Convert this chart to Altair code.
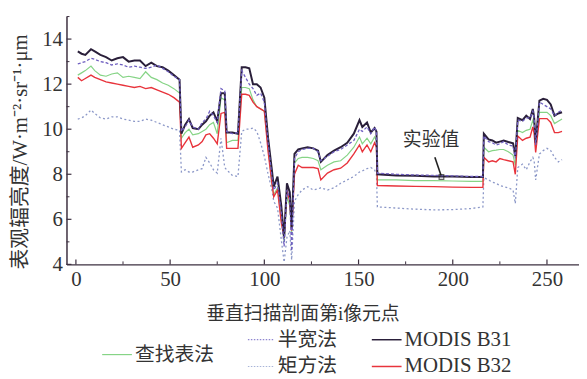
import altair as alt
import pandas as pd

# ---------------- data ----------------
pixel_i = [1, 3, 5, 8, 10, 13, 16, 19, 22, 25, 28, 31, 34, 37, 40, 43, 46, 49, 52, 55,
           56, 58, 60, 62, 65, 67, 69, 71, 73, 75, 77, 79, 80, 83, 86,
           88, 90, 92, 94, 96, 98, 100, 102, 104, 105, 107, 109, 110.5, 112, 113.5, 114.5,
           116, 118, 120, 123, 126, 128.5, 130, 133.5, 137, 140.5, 144, 147.5, 150.5, 152,
           154.5, 156.5, 158.5, 159.5,
           160, 170, 180, 190, 200, 210, 216,
           216.5, 219, 221, 223, 225, 227, 229.5, 232, 233.2,
           234.5, 237, 239, 241, 242.5, 243.2, 244, 246, 248, 250, 252, 254, 256, 258]

modis_b31 = [13.45, 13.35, 13.3, 13.55, 13.45, 13.3, 13.2, 13.05, 13.15, 13.2, 13.0, 13.05, 13.05, 12.8, 12.95, 12.8, 12.75, 12.6, 12.4, 12.2,
             9.8, 10.2, 10.45, 10.05, 10.0, 10.2, 10.35, 10.6, 10.75, 10.35, 11.6, 11.6, 9.85, 9.85, 9.8,
             12.75, 12.75, 12.7, 12.0, 12.0, 11.85, 11.4, 9.6, 8.2, 7.45, 7.9, 6.6, 5.2, 7.6, 7.2, 5.6,
             8.9, 9.1, 9.15, 9.2, 9.15, 9.05, 8.55, 8.85, 9.05, 9.2, 9.4, 9.8, 10.4, 10.1,
             10.3, 9.85, 10.05, 9.9,
             8.0, 7.95, 7.93, 7.9, 7.9, 7.88, 7.88,
             9.8, 9.55, 9.5, 9.4, 9.45, 9.5, 9.43, 9.37, 8.8,
             10.5, 10.4, 10.6, 10.45, 10.9, 10.5, 9.4, 11.27, 11.35, 11.3, 11.1, 10.6, 10.7, 10.75]

half_width = [12.9, 12.95, 13.0, 13.15, 13.1, 13.0, 12.95, 12.85, 12.9, 12.85, 12.75, 12.8, 12.75, 12.7, 12.75, 12.85, 12.7, 12.55, 12.35, 12.2,
              9.9, 10.1, 10.4, 10.1, 10.0, 10.3, 10.45, 10.8, 10.6, 10.3, 11.8, 11.7, 9.9, 9.8, 9.85,
              12.6, 12.3, 12.0, 11.8, 11.5, 11.6, 11.2, 9.4, 7.9, 7.3, 7.6, 6.3, 4.8, 7.3, 6.9, 4.6,
              8.7, 9.0, 9.1, 9.15, 9.15, 9.0, 8.6, 8.8, 9.0, 9.1, 9.3, 9.5, 10.0, 9.9,
              10.1, 9.8, 10.1, 9.9,
              8.05, 8.0, 7.97, 7.95, 7.93, 7.9, 7.9,
              9.7, 9.45, 9.4, 9.3, 9.35, 9.45, 9.3, 9.25, 8.7,
              10.4, 10.35, 10.5, 10.5, 10.8, 10.5, 9.3, 11.2, 11.1, 11.0, 10.9, 10.6, 10.75, 10.85]

lookup_table = [12.4, 12.5, 12.6, 12.8, 12.6, 12.4, 12.35, 12.45, 12.5, 12.3, 12.35, 12.3, 12.25, 12.55, 12.3, 12.2, 12.05, 11.95, 11.8, 11.6,
                9.6, 9.85, 10.0, 9.75, 9.8, 9.9, 10.0, 10.2, 10.3, 9.8, 11.4, 11.3, 9.4, 9.5, 9.5,
                11.85, 11.85, 11.8, 11.3, 11.0, 10.9, 10.8, 9.2, 7.6, 7.1, 7.4, 6.0, 5.0, 7.0, 6.6, 5.4,
                8.5, 8.7, 8.75, 8.75, 8.7, 8.6, 8.2, 8.4, 8.55, 8.6, 8.85, 9.2, 9.65, 9.35,
                9.6, 9.35, 9.65, 9.5,
                7.75, 7.75, 7.72, 7.72, 7.7, 7.68, 7.68,
                9.2, 9.0, 9.05, 9.07, 9.1, 9.1, 9.0, 8.85, 8.4,
                9.95, 9.85, 9.95, 10.0, 10.4, 10.2, 9.2, 10.75, 10.75, 10.75, 10.6, 10.25, 10.35, 10.45]

modis_b32 = [12.3, 12.15, 12.25, 12.4, 12.3, 12.2, 12.1, 12.05, 12.0, 11.95, 11.9, 11.85, 11.9, 11.8, 11.85, 11.75, 11.65, 11.55, 11.4, 11.2,
             9.15, 9.4, 9.65, 9.2, 9.3, 9.45, 9.75, 9.8, 9.6, 9.35, 10.7, 10.75, 9.15, 9.15, 9.15,
             11.55, 11.55, 11.5, 11.2, 11.0, 10.9, 10.8, 9.0, 7.6, 7.0, 7.3, 5.85, 5.2, 7.3, 6.8, 5.5,
             8.0, 8.4, 8.3, 8.3, 8.3, 8.25, 7.75, 8.05, 8.2, 8.27, 8.5, 8.9, 9.3, 9.0,
             9.3, 9.0, 9.4, 9.2,
             7.5, 7.48, 7.46, 7.45, 7.43, 7.42, 7.42,
             8.75, 8.55, 8.6, 8.55, 8.7, 8.65, 8.6, 8.55, 8.0,
             9.7, 9.5, 9.6, 9.65, 10.1, 9.8, 8.97, 10.47, 10.47, 10.47, 10.3, 9.85, 9.85, 9.9]

moment = [10.45, 10.5, 10.6, 10.85, 10.7, 10.5, 10.45, 10.55, 10.55, 10.45, 10.4, 10.35, 10.35, 10.45, 10.4, 10.3, 10.2, 10.1, 10.0, 9.95,
          8.1, 8.2, 8.1, 8.1, 8.2, 8.25, 8.75, 8.5, 8.2, 8.05, 9.6, 8.3, 8.2, 7.95, 7.9,
          9.9, 10.0, 10.0, 10.05, 9.9, 9.4, 8.8, 8.0, 7.3, 6.8, 6.5, 5.1, 4.1, 5.2, 5.5, 4.2,
          6.8, 7.1, 7.3, 7.45, 7.3, 7.35, 7.4, 7.3, 7.4, 7.6, 7.75, 7.9, 8.1, 8.15,
          8.25, 8.3, 8.2, 8.0,
          6.55, 6.5, 6.45, 6.42, 6.43, 6.48, 6.55,
          7.85, 7.75, 7.65, 7.6, 7.5, 7.45, 7.4, 7.3, 6.7,
          8.3, 8.45, 8.2, 8.55, 8.75, 8.6, 7.75, 8.9, 9.05, 9.15, 9.05, 8.75, 8.55, 8.65]

x_tick_values = [0, 50, 100, 150, 200, 250]
x_minor_ticks = [25, 75, 125, 175, 225]
y_tick_values = [4, 6, 8, 10, 12, 14]
y_minor_ticks = [5, 7, 9, 11, 13, 15]

note_text = ["实验值"]
note_text_pos = [188.5, 9.5]
note_arrow = [[190.5, 8.75], [193.8, 7.95]]
note_box = [194, 7.88]

# ---------------- styling ----------------
W, H = 517, 250
X_DOMAIN = [-5, 267]
Y_DOMAIN = [4, 15]
SERIF = "Liberation Serif"
MIXED = "Liberation Serif, Noto Sans CJK SC"
CJK = "Noto Sans CJK SC"
AXIS_COLOR = "#3d3040"

series = [
    # name, values, color, width, dash
    ("矩方法", moment, "#8c98c8", 1.3, [2, 2.5]),
    ("查找表法", lookup_table, "#86d486", 1.2, None),
    ("MODIS B32", modis_b32, "#e8343c", 1.4, None),
    ("MODIS B31", modis_b31, "#2a1f3a", 2.0, None),
    ("半宽法", half_width, "#6f5fc0", 1.3, [3, 2]),
]

xs = alt.Scale(domain=X_DOMAIN, nice=False, zero=False)
ys = alt.Scale(domain=Y_DOMAIN, nice=False, zero=False)

layers = []
for i, (name, vals, col, sw, dash) in enumerate(series):
    df = pd.DataFrame({"x": pixel_i, "y": vals, "s": name})
    kw = dict(color=col, strokeWidth=sw, clip=True, interpolate="linear")
    if dash:
        kw["strokeDash"] = dash
    if i == 0:
        enc = dict(
            x=alt.X("x:Q", scale=xs,
                    axis=alt.Axis(values=x_tick_values, ticks=False, grid=False,
                                  labelFont=SERIF, labelFontSize=21, labelColor="#333",
                                  labelPadding=4, domainColor=AXIS_COLOR, domainWidth=1.5,
                                  title="垂直扫描剖面第i像元点", titleFont=MIXED,
                                  titleFontSize=19, titleFontWeight=400,
                                  titleColor="#333", titleX=238, titleY=50,
                                  titleBaseline="middle")),
            y=alt.Y("y:Q", scale=ys,
                    axis=alt.Axis(values=y_tick_values, ticks=False, grid=False,
                                  labelFont=SERIF, labelFontSize=21, labelColor="#333",
                                  labelPadding=4, domainColor=AXIS_COLOR, domainWidth=1.5,
                                  title="表观辐亮度/W·m⁻²·sr⁻¹·μm", titleFont=MIXED,
                                  titleFontSize=21, titleFontWeight=400,
                                  titleColor="#333", titleX=-46, titleY=136,
                                  titleBaseline="middle", titleAngle=270)),
        )
    else:
        enc = dict(x=alt.X("x:Q", scale=xs), y=alt.Y("y:Q", scale=ys))
    layers.append(alt.Chart(df).mark_line(**kw).encode(**enc))

# inward ticks
xt = pd.DataFrame({"x": x_tick_values})
xm = pd.DataFrame({"x": x_minor_ticks})
yt = pd.DataFrame({"y": y_tick_values})
ym = pd.DataFrame({"y": y_minor_ticks})
layers += [
    alt.Chart(xt).mark_rule(color=AXIS_COLOR, strokeWidth=1.2).encode(
        x=alt.X("x:Q", scale=xs), y=alt.value(H), y2=alt.value(H - 5)),
    alt.Chart(xm).mark_rule(color=AXIS_COLOR, strokeWidth=1).encode(
        x=alt.X("x:Q", scale=xs), y=alt.value(H), y2=alt.value(H - 3)),
    alt.Chart(yt).mark_rule(color=AXIS_COLOR, strokeWidth=1.2).encode(
        y=alt.Y("y:Q", scale=ys), x=alt.value(0), x2=alt.value(5)),
    alt.Chart(ym).mark_rule(color=AXIS_COLOR, strokeWidth=1).encode(
        y=alt.Y("y:Q", scale=ys), x=alt.value(0), x2=alt.value(3)),
]

# annotation "实验值"
layers += [
    alt.Chart(pd.DataFrame({"x": [note_text_pos[0]], "y": [note_text_pos[1]], "t": note_text}))
    .mark_text(font=CJK, fontSize=19, color="#333", align="center", baseline="middle")
    .encode(x=alt.X("x:Q", scale=xs), y=alt.Y("y:Q", scale=ys), text="t:N"),
    alt.Chart(pd.DataFrame({"x": [note_arrow[0][0], note_arrow[1][0]],
                            "y": [note_arrow[0][1], note_arrow[1][1]]}))
    .mark_line(color="#222", strokeWidth=1.6)
    .encode(x=alt.X("x:Q", scale=xs), y=alt.Y("y:Q", scale=ys)),
    alt.Chart(pd.DataFrame({"x": [note_box[0]], "y": [note_box[1]]}))
    .mark_point(shape="square", size=22, filled=False, color="#222", strokeWidth=1.2)
    .encode(x=alt.X("x:Q", scale=xs), y=alt.Y("y:Q", scale=ys)),
]

# manual legend (pixel positions relative to plot origin)
legend_items = [
    ("查找表法", "#86d486", 1.2, None, 36, 66, 341),
    ("半宽法", "#8f86d0", 1.2, [1.5, 1.5], 183, 210, 326),
    ("矩方法", "#a8b4d8", 1.2, [1.5, 1.5], 183, 210, 353),
    ("MODIS B31", "#2a1f3a", 1.5, None, 308, 338, 326),
    ("MODIS B32", "#e8343c", 1.5, None, 308, 338, 353),
]
one = pd.DataFrame({"a": [0]})
for label, col, sw, dash, x1, x2, yy in legend_items:
    kw = dict(color=col, strokeWidth=sw)
    if dash:
        kw["strokeDash"] = dash
    layers.append(alt.Chart(one).mark_rule(**kw).encode(
        x=alt.value(x1), x2=alt.value(x2), y=alt.value(yy)))
    is_latin = label.startswith("MODIS")
    layers.append(alt.Chart(one).mark_text(
        text=label, font=SERIF if is_latin else CJK, fontSize=21 if is_latin else 20,
        color="#333", align="left", baseline="middle").encode(
        x=alt.value(x2 + 3), y=alt.value(yy)))

chart = alt.layer(*layers).properties(
    width=W, height=H,
    autosize=alt.AutoSizeParams(type="none"),
    padding={"left": 59, "top": 7, "right": 0, "bottom": 114},
    background="white",
).configure_view(stroke=None)

chart.save("out.html", embed_options={"renderer": "svg", "actions": False})
